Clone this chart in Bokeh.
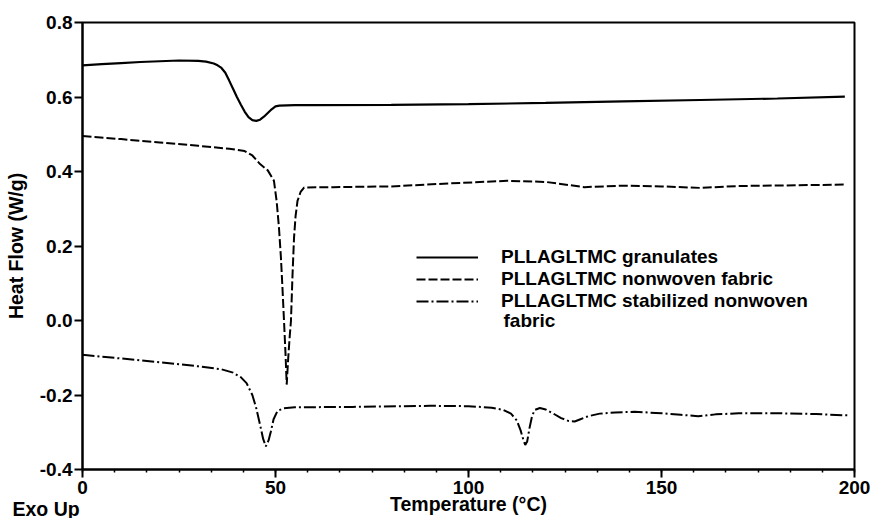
from bokeh.plotting import figure
from bokeh.models import FixedTicker, NumeralTickFormatter, Legend, LegendItem, Label
from bokeh.embed import file_html
from bokeh.resources import INLINE

# ---- data ----
t_gran = [0, 5, 10, 15, 20, 25, 30, 32, 34, 35, 36, 37, 38, 39, 40, 41, 42, 43, 44, 45, 46, 47,
          48, 49, 50, 51, 55, 60, 80, 100, 120, 140, 160, 180, 197.5]
hf_gran = [0.685, 0.688, 0.691, 0.694, 0.696, 0.698, 0.697, 0.695, 0.690, 0.685, 0.678, 0.665,
           0.644, 0.622, 0.600, 0.580, 0.561, 0.546, 0.538, 0.536, 0.539, 0.547,
           0.557, 0.567, 0.575, 0.577, 0.578, 0.578, 0.579, 0.581, 0.584, 0.588, 0.592, 0.596,
           0.601]

t_fab = [0, 10, 20, 30, 38, 42, 44, 46, 48, 49.6, 50.3, 50.9, 51.4, 51.8, 52.2, 52.6, 52.9,
         53.3, 53.7, 54.0, 54.4, 54.8, 55.2, 55.7, 56.5, 57.4, 65, 80, 95, 110, 120, 130,
         140, 150, 160, 170, 185, 197.5]
hf_fab = [0.495, 0.487, 0.478, 0.469, 0.461, 0.455, 0.443, 0.420, 0.403, 0.375, 0.320, 0.249,
          0.170, 0.088, 0.000, -0.091, -0.172, -0.100, -0.040, -0.002, 0.120, 0.222, 0.280,
          0.321, 0.345, 0.357, 0.358, 0.360, 0.368, 0.375, 0.372, 0.358, 0.362, 0.360, 0.356,
          0.361, 0.363, 0.365]

t_stab = [0, 10, 20, 30, 36, 39, 41, 42.5, 44, 45, 46, 46.8, 47.5, 48.2, 48.8, 49.5, 50.5, 52,
          55, 70, 90, 100, 106, 109, 111, 112.5, 113.5, 114.2, 114.7, 115.2, 115.8, 116.5,
          117.2, 118.5, 120, 122, 124, 126, 127.5, 129, 131, 134, 138, 143, 150, 155, 159.5,
          164, 170, 180, 190, 198.8]
hf_stab = [-0.092, -0.102, -0.112, -0.123, -0.131, -0.140, -0.152, -0.168, -0.200, -0.235,
           -0.280, -0.318, -0.338, -0.322, -0.298, -0.265, -0.243, -0.236, -0.233, -0.232,
           -0.229, -0.230, -0.234, -0.240, -0.250, -0.268, -0.295, -0.320, -0.334, -0.325,
           -0.289, -0.255, -0.240, -0.235, -0.239, -0.250, -0.262, -0.270, -0.271, -0.265,
           -0.257, -0.250, -0.247, -0.245, -0.249, -0.253, -0.257, -0.252, -0.249, -0.249,
           -0.251, -0.255]

x_ticks = [0, 50, 100, 150, 200]
y_ticks = [-0.4, -0.2, 0.0, 0.2, 0.4, 0.6, 0.8]
labels = ["PLLAGLTMC granulates", "PLLAGLTMC nonwoven fabric",
          "PLLAGLTMC stabilized nonwoven", "fabric"]

FONT = "Liberation Sans"

p = figure(width=872, height=518, x_range=(0, 200), y_range=(-0.4, 0.8),
           output_backend="svg", toolbar_location=None,
           min_border_left=82, min_border_right=18, min_border_top=22, min_border_bottom=49)
p.background_fill_color = "white"
p.border_fill_color = "white"
p.grid.visible = False
p.outline_line_color = "black"
p.outline_line_width = 2

r1 = p.line(t_gran, hf_gran, line_color="black", line_width=2.2)
r2 = p.line(t_fab, hf_fab, line_color="black", line_width=2, line_dash="9 3")
r3 = p.line(t_stab, hf_stab, line_color="black", line_width=2, line_dash="12 3 2 3")

for ax in (p.xaxis[0], p.yaxis[0]):
    ax.axis_line_width = 2
    ax.major_tick_line_width = 2
    ax.minor_tick_line_width = 1.5
    ax.major_tick_in = 0
    ax.major_tick_out = 8
    ax.minor_tick_in = 0
    ax.minor_tick_out = 3
    ax.major_label_text_font = FONT
    ax.major_label_text_font_style = "bold"
    ax.major_label_text_font_size = "19px"
    ax.major_label_text_color = "black"
    ax.axis_label_text_font = FONT
    ax.axis_label_text_font_style = "bold"
    ax.axis_label_text_font_size = "19.5px"
    ax.axis_label_text_color = "black"

p.xaxis.ticker = FixedTicker(ticks=x_ticks,
                             minor_ticks=[i * 50 / 6 for i in range(25)])
p.yaxis.ticker = FixedTicker(ticks=y_ticks, minor_ticks=[])
p.yaxis.formatter = NumeralTickFormatter(format="0.0")
p.xaxis.axis_label = "Temperature (°C)"
p.yaxis.axis_label = "Heat Flow (W/g)"
p.xaxis.major_label_standoff = 3
p.xaxis.axis_label_standoff = -4
p.yaxis.major_label_standoff = 2
p.yaxis.axis_label_standoff = 10

legend = Legend(items=[LegendItem(label=labels[0], renderers=[r1]),
                       LegendItem(label=labels[1], renderers=[r2]),
                       LegendItem(label=labels[2], renderers=[r3])],
                location=(334, 157), padding=0, margin=0, spacing=-6,
                glyph_width=62, glyph_height=20, label_height=20, label_standoff=23,
                border_line_color=None, background_fill_alpha=0,
                label_text_font=FONT, label_text_font_style="bold",
                label_text_font_size="19px", label_text_color="black")
p.add_layout(legend)

p.add_layout(Label(x=421, y=149, x_units="screen", y_units="screen", text=labels[3],
                   text_font=FONT, text_font_style="bold", text_font_size="19px",
                   text_color="black", text_baseline="middle"))

# "Exo Up" sits in the top border panel (not clipped) and is shifted down to the bottom row
p.add_layout(Label(x=-70, y=-497, x_units="screen", y_units="screen", text="Exo Up",
                   text_font=FONT, text_font_style="bold", text_font_size="19.5px",
                   text_color="black", text_baseline="bottom"), "above")

open("out.html", "w").write(file_html(p, INLINE))
